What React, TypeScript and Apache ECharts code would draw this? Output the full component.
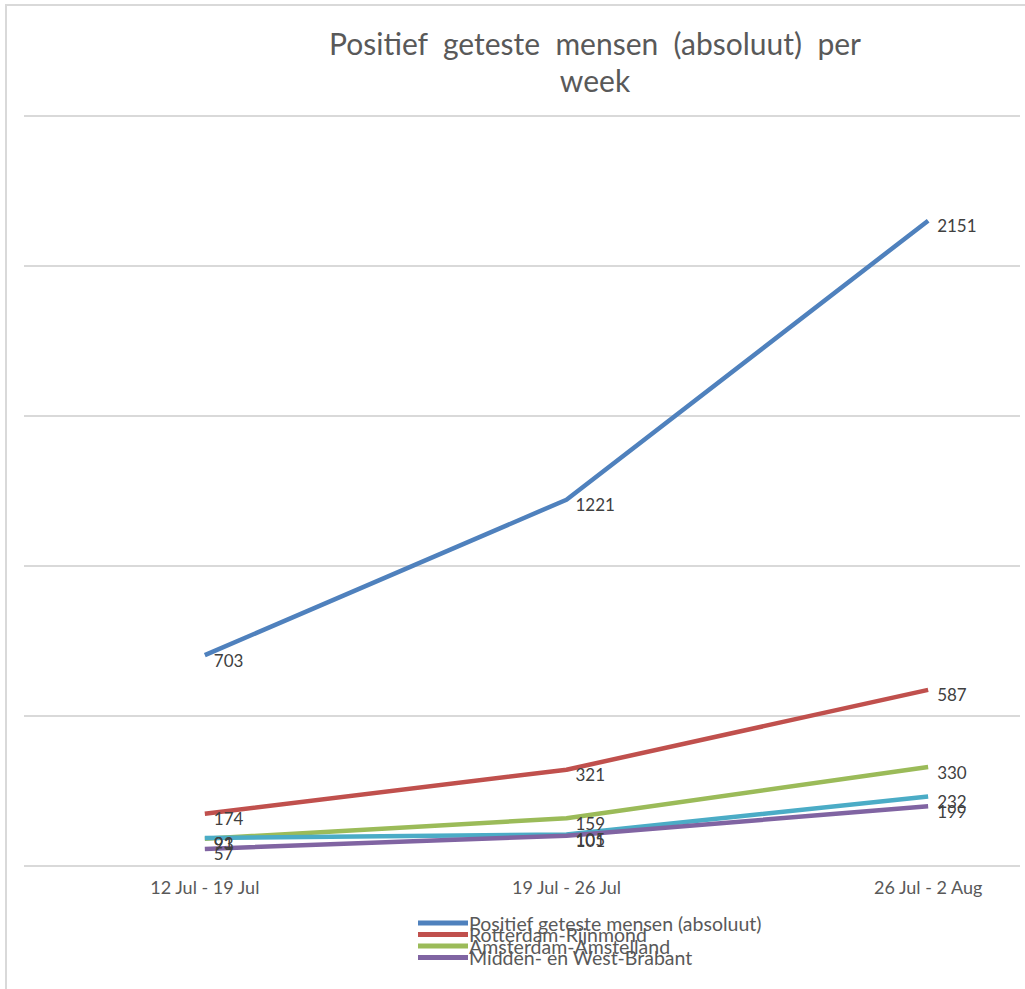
import React, { useEffect, useRef } from "react";
import * as echarts from "echarts";

const categories = ["12 Jul - 19 Jul", "19 Jul - 26 Jul", "26 Jul - 2 Aug"];
const seriesNames = [
  "Positief geteste mensen (absoluut)",
  "Rotterdam-Rijnmond",
  "Amsterdam-Amstelland",
  "Haaglanden",
  "Midden- en West-Brabant",
];
const totalValues = [703, 1221, 2151];
const rotterdamValues = [174, 321, 587];
const amsterdamValues = [91, 159, 330];
const haaglandenValues = [93, 105, 232];
const brabantValues = [57, 101, 199];
const legendNames = [
  "Positief geteste mensen (absoluut)",
  "Rotterdam-Rijnmond",
  "Amsterdam-Amstelland",
  "Midden- en West-Brabant",
];
const colors = ["#4F81BD", "#C0504D", "#9BBB59", "#4BACC6", "#8064A2"];

const FONT = "Lato, 'Open Sans', sans-serif";

export default function App() {
  const ref = useRef<HTMLDivElement>(null);
  useEffect(() => {
    if (!ref.current) return;
    const chart = echarts.init(ref.current, null, { renderer: "svg" });
    const allValues = [totalValues, rotterdamValues, amsterdamValues, haaglandenValues, brabantValues];
    const series = allValues.map((vals, i) => ({
      name: seriesNames[i],
      type: "line",
      data: vals.map((v, j) => [j, v]),
      symbol: "circle",
      symbolSize: 0,
      showSymbol: true,
      lineStyle: { width: 4.5, color: colors[i] },
      itemStyle: { color: colors[i] },
      label: {
        show: true,
        position: "right",
        distance: 9,
        offset: [0, 5],
        fontFamily: FONT,
        fontSize: 17,
        color: "#404040",
        formatter: (p: any) => String(p.value[1]),
      },
    }));
    const legendCenters = [923, 934.5, 946, 957.5];
    const legends = legendNames.map((name, i) => ({
      data: [name],
      orient: "vertical",
      left: 418,
      top: legendCenters[i] - 10,
      padding: 0,
      itemWidth: 50,
      itemHeight: 5,
      itemGap: 0,
      icon: "rect",
      textStyle: {
        fontFamily: FONT,
        fontSize: 19.5,
        color: "#595959",
        lineHeight: 20,
        padding: [0, 0, 0, -4],
      },
    }));
    chart.setOption({
      animation: false,
      backgroundColor: "#ffffff",
      textStyle: { fontFamily: FONT },
      color: colors,
      title: {
        text: "Positief  geteste  mensen  (absoluut)  per\nweek",
        left: 590,
        top: 19,
        textAlign: "center",
        textStyle: {
          fontFamily: FONT,
          fontSize: 30,
          fontWeight: "normal",
          color: "#595959",
          lineHeight: 37,
        },
      },
      legend: legends,
      grid: { left: 24, right: 5, top: 116, bottom: 989 - 866 },
      xAxis: {
        type: "value",
        min: -0.5,
        max: 2.254,
        axisLine: { show: false },
        axisTick: { show: false },
        splitLine: { show: false },
        axisLabel: {
          customValues: [0, 1, 2],
          formatter: (v: number) => categories[Math.round(v)] ?? "",
          fontFamily: FONT,
          fontSize: 18,
          color: "#595959",
          margin: 12,
        },
      },
      yAxis: {
        type: "value",
        min: 0,
        max: 2500,
        interval: 500,
        axisLabel: { show: false },
        axisLine: { show: false },
        axisTick: { show: false },
        splitLine: { lineStyle: { color: "#D9D9D9", width: 2 } },
      },
      graphic: [
        {
          type: "rect",
          shape: { x: 6, y: 5, width: 1100, height: 1100 },
          style: { fill: "none", stroke: "#D9D9D9", lineWidth: 2 },
          silent: true,
        },
      ],
      series,
    });
    return () => chart.dispose();
  }, []);
  return (
    <div
      ref={ref}
      style={{ position: "absolute", left: 0, top: 0, width: 1025, height: 989 }}
    />
  );
}
